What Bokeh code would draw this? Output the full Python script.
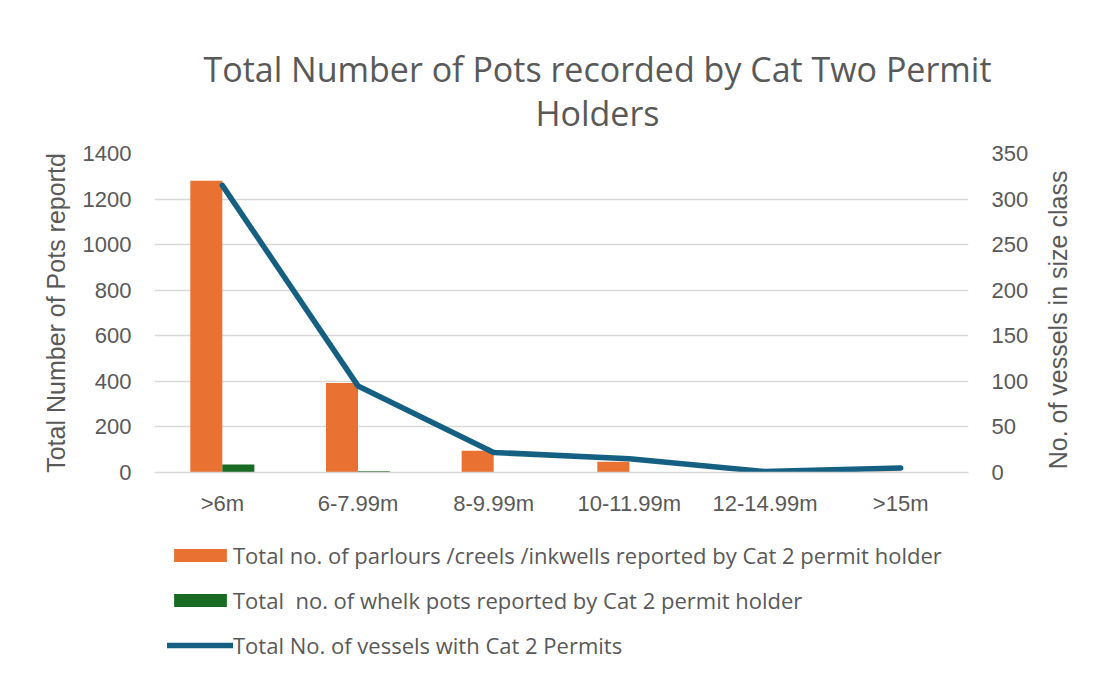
import math
from bokeh.plotting import figure
from bokeh.layouts import column, row
from bokeh.models import (Range1d, LinearAxis, FixedTicker, Legend, LegendItem,
                          Label, FactorRange, ColumnDataSource)
from bokeh.transform import dodge
from bokeh.embed import file_html
from bokeh.resources import INLINE

categories = [">6m", "6-7.99m", "8-9.99m", "10-11.99m", "12-14.99m", ">15m"]
parlours = [1280, 393, 95, 47, 0, 3]
whelk = [35, 5, 2, 0, 0, 0]
vessels = [315, 95, 22, 15, 1, 5]
left_ticks = [0, 200, 400, 600, 800, 1000, 1200, 1400]
right_ticks = [0, 50, 100, 150, 200, 250, 300, 350]

title_lines = ["Total Number of Pots recorded by Cat Two Permit", "Holders"]
left_title = "Total Number of Pots reportd"
right_title = "No. of  vessels in size class"
series_names = ["Total no. of parlours /creels /inkwells reported by Cat 2 permit holder",
                "Total  no. of whelk pots reported by Cat 2 permit holder",
                "Total No. of vessels with Cat 2 Permits"]

TXT = "#595959"
GRID = "#D9D9D9"
ORANGE = "#E97132"
GREEN = "#196B24"
BLUE = "#156082"
FONT = "Open Sans"
AXFONT = "Liberation Sans"
W = 1093
TITLE_H = 140
MAIN_W = 1040
MAIN_H = 380
LEG_H = 675 - TITLE_H - MAIN_H


def blank(w, h):
    f = figure(width=w, height=h, x_range=Range1d(0, w), y_range=Range1d(h, 0),
               x_axis_type=None, y_axis_type=None, output_backend="svg",
               toolbar_location=None, min_border=0, frame_align=False)
    f.outline_line_color = None
    f.xgrid.visible = False
    f.ygrid.visible = False
    return f


# ---- title block ----
ft = blank(W, TITLE_H)
for txt, yy in zip(title_lines, [68, 112]):
    ft.add_layout(Label(x=597, y=yy, text=txt, text_align="center",
                        text_baseline="middle", text_font=FONT,
                        text_font_size="34px", text_color=TXT))

# ---- main chart ----
src = ColumnDataSource(dict(cat=categories, parl=parlours, whelk=whelk, ves=vessels))

p = figure(x_range=FactorRange(*categories), y_range=Range1d(0, 1400),
           width=MAIN_W, height=MAIN_H, output_backend="svg", toolbar_location=None,
           min_border_left=154, min_border_right=72, min_border_top=13,
           min_border_bottom=48, frame_align=False)
p.outline_line_color = None
p.extra_y_ranges = {"v": Range1d(0, 350)}

p.vbar(x=dodge("cat", -0.118, range=p.x_range), top="parl", width=0.236,
       source=src, fill_color=ORANGE, line_color=None)
p.vbar(x=dodge("cat", 0.118, range=p.x_range), top="whelk", width=0.236,
       source=src, fill_color=GREEN, line_color=None)
p.line(x="cat", y="ves", source=src, y_range_name="v", line_width=5.5,
       line_color=BLUE, line_cap="round", line_join="round")

p.xgrid.grid_line_color = None
p.ygrid.grid_line_color = GRID
p.ygrid.grid_line_width = 1.5
p.yaxis.ticker = FixedTicker(ticks=left_ticks)

ax_r = LinearAxis(y_range_name="v", ticker=FixedTicker(ticks=right_ticks))
p.add_layout(ax_r, "right")
p.yaxis[0].axis_label = left_title

for ax in [p.yaxis[0], ax_r]:
    ax.axis_line_color = None
    ax.major_tick_line_color = None
    ax.minor_tick_line_color = None
    ax.major_tick_out = 0
    ax.major_tick_in = 0
    ax.minor_tick_out = 0
    ax.major_label_standoff = 23
    ax.major_label_text_font = AXFONT
    ax.major_label_text_font_size = "22px"
    ax.major_label_text_color = TXT
    ax.axis_label_text_font = AXFONT
    ax.axis_label_text_font_size = "25px"
    ax.axis_label_text_font_style = "normal"
    ax.axis_label_text_color = TXT
p.yaxis[0].axis_label_standoff = 10

xa = p.xaxis[0]
xa.axis_line_color = GRID
xa.axis_line_width = 1.5
xa.major_tick_line_color = None
xa.major_tick_out = 0
xa.major_tick_in = 0
xa.major_label_standoff = 18
xa.major_label_text_font = AXFONT
xa.major_label_text_font_size = "22px"
xa.major_label_text_color = TXT

# ---- right axis title (reads bottom-to-top) ----
fr = blank(W - MAIN_W, MAIN_H)
fr.add_layout(Label(x=17, y=176, text=right_title, angle=math.pi / 2,
                    text_align="center", text_baseline="middle", text_font=AXFONT,
                    text_font_size="25px", text_color=TXT))

# ---- legend block ----
fl = blank(W, LEG_H)
nan = float("nan")
proxy = ColumnDataSource(dict(x=[nan], y=[nan]))
r1 = fl.vbar(x="x", top="y", width=1, source=proxy, fill_color=ORANGE, line_color=None)
r2 = fl.vbar(x="x", top="y", width=1, source=proxy, fill_color=GREEN, line_color=None)
r3 = fl.line(x="x", y="y", source=proxy, line_width=5.5, line_color=BLUE, line_cap="round")
legend = Legend(items=[LegendItem(label=series_names[0], renderers=[r1]),
                       LegendItem(label=series_names[1], renderers=[r2]),
                       LegendItem(label=series_names[2], renderers=[r3])],
                location=(167, 14), orientation="vertical")
legend.label_text_font = FONT
legend.label_text_font_size = "22px"
legend.label_text_color = TXT
legend.glyph_width = 66
legend.glyph_height = 16
legend.label_height = 32
legend.label_standoff = 0
legend.spacing = 13
legend.padding = 0
legend.margin = 0
legend.border_line_color = None
legend.background_fill_alpha = 0
fl.add_layout(legend, "center")

lay = column(ft, row(p, fr, spacing=0), fl, spacing=0)
open("out.html", "w").write(file_html(lay, INLINE))
